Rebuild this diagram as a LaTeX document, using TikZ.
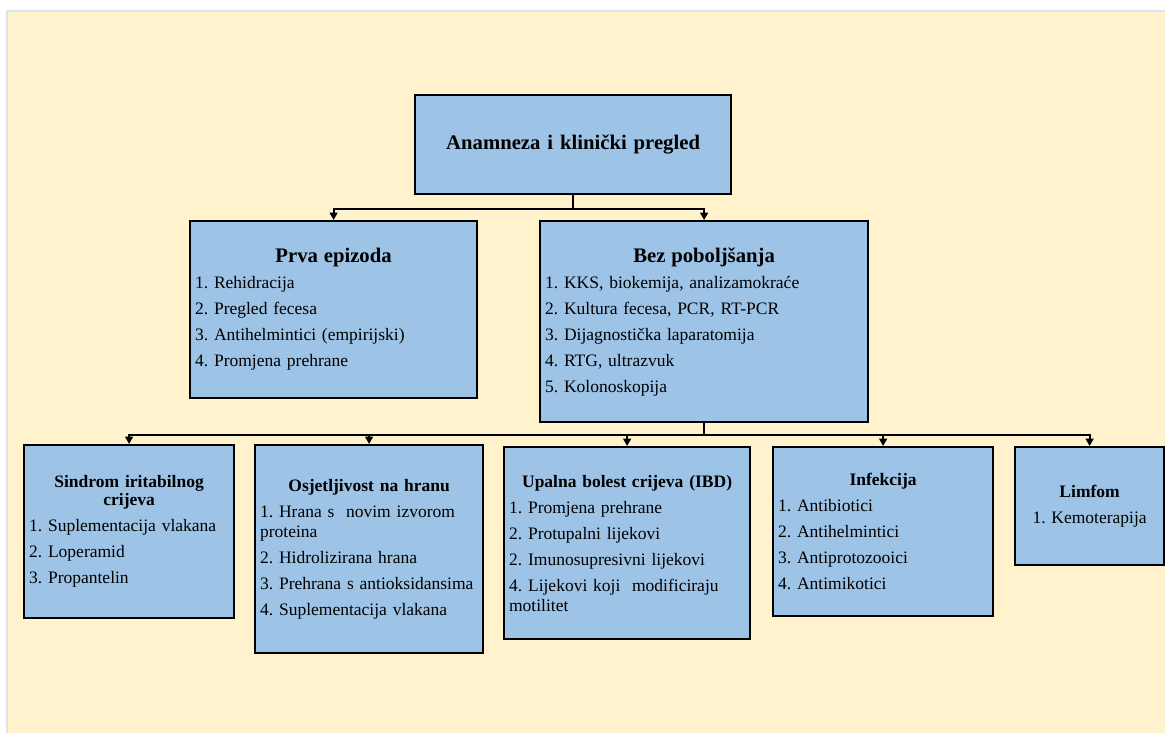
\documentclass[tikz,border=0pt]{standalone}
\usepackage{fontspec}
\setmainfont{Liberation Serif}
\usetikzlibrary{arrows.meta}
\definecolor{PaperColor}{RGB}{255,242,204}
\definecolor{EdgeColor}{RGB}{220,228,240}
\definecolor{BoxColor}{RGB}{157,195,230}
\newcommand{\itemfont}{\fontsize{17.5}{20}\selectfont}
\newcommand{\headfont}{\fontsize{17.5}{18}\selectfont\bfseries}
\newcommand{\bigheadfont}{\fontsize{20.7}{22}\selectfont\bfseries}
\tikzstyle{box} = [draw=black, line width=2.2pt, fill=BoxColor, anchor=north west, inner xsep=5pt, inner ysep=0pt, align=left, font=\itemfont, execute at begin node={\setlength{\parskip}{6pt}\frenchspacing}]
\tikzstyle{link} = [line width=1.8pt, -{Triangle[length=7.5pt, width=8pt]}]
\begin{document}
\begin{tikzpicture}[x=1pt, y=-1pt]
    \useasboundingbox (0,0) rectangle (1165,733);
    % Background
    \fill[PaperColor] (7,11) rectangle (1165,733);
    \draw[EdgeColor, line width=1.5pt] (7,733) -- (7,11) -- (1165,11);

    % Top level
    \node[box, text width=306pt, minimum height=99pt, align=center, font=\bigheadfont] (anamneza) at (414,94) {Anamneza i klinički pregled};

    % Second level
    \node[box, text width=277pt, minimum height=177pt] (prva) at (189,220) {{\centering\bigheadfont Prva epizoda\par}
        1. Rehidracija\par
        2. Pregled fecesa\par
        3. Antihelmintici (empirijski)\par
        4. Promjena prehrane};
    \node[box, text width=318pt, minimum height=201pt] (bez) at (539,220) {{\centering\bigheadfont Bez poboljšanja\par}
        1. KKS, biokemija, analizamokraće\par
        2. Kultura fecesa, PCR, RT-PCR\par
        3. Dijagnostička laparatomija\par
        4. RTG, ultrazvuk\par
        5. Kolonoskopija};

    % Third level
    \node[box, text width=200pt, minimum height=173pt] (sindrom) at (23,444) {{\centering\headfont Sindrom iritabilnog\\ crijeva\par}
        1. Suplementacija vlakana\par
        2. Loperamid\par
        3. Propantelin};
    \node[box, text width=218pt, minimum height=208pt] (osjet) at (254,444) {{\centering\headfont Osjetljivost na hranu\par}
        1. Hrana s~ novim izvorom\\ proteina\par
        2. Hidrolizirana hrana\par
        3. Prehrana s antioksidansima\par
        4. Suplementacija vlakana};
    \node[box, text width=236pt, minimum height=192pt] (upalna) at (503,446) {{\centering\headfont Upalna bolest crijeva (IBD)\par}
        1. Promjena prehrane\par
        2. Protupalni lijekovi\par
        2. Imunosupresivni lijekovi\par
        4. Lijekovi koji~ modificiraju\\ motilitet};
    \node[box, text width=210pt, minimum height=169pt] (infekcija) at (772,446) {{\centering\headfont Infekcija\par}
        1. Antibiotici\par
        2. Antihelmintici\par
        3. Antiprotozooici\par
        4. Antimikotici};
    \node[box, text width=139pt, minimum height=118pt, align=center] (limfom) at (1014,446) {{\headfont Limfom\par}
        1. Kemoterapija};

    % Connectors
    \draw[link] (anamneza.south) -- ++(0,14) coordinate (split1) -| (prva.north);
    \draw[link] (split1) -| (bez.north);
    \draw[line width=1.8pt] (bez.south) -- ++(0,12) coordinate (split2);
    \foreach \n in {sindrom, osjet, upalna, infekcija, limfom} {
            \draw[link] (split2) -| (\n.north);
        }
\end{tikzpicture}
\end{document}
